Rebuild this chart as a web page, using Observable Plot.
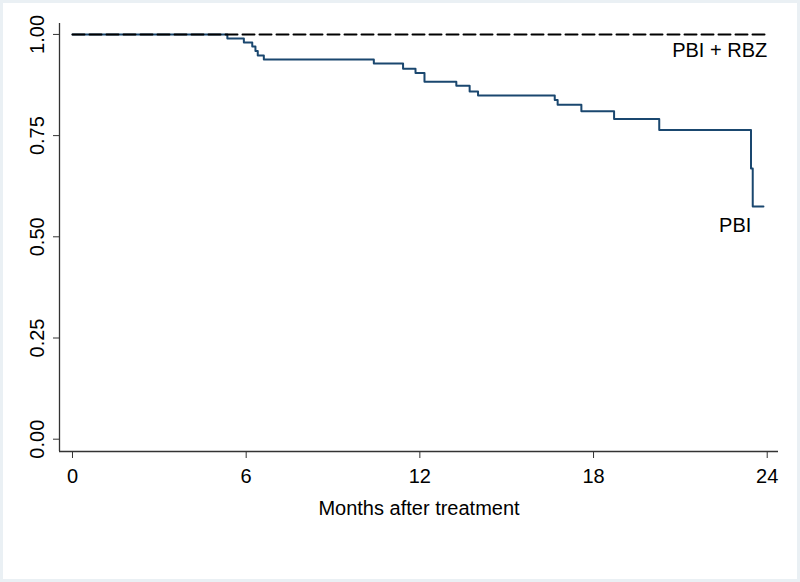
<!DOCTYPE html>
<html>
<head>
<meta charset="utf-8">
<script src="https://cdn.jsdelivr.net/npm/d3@7"></script>
<script src="https://cdn.jsdelivr.net/npm/@observablehq/plot@0.6"></script>
<style>
  html, body { margin: 0; padding: 0; background: #ffffff; }
  #chart { width: 800px; height: 582px; position: relative; overflow: hidden; }
  #chart svg { display: block; }
  #border { position: absolute; left: 0; top: 0; width: 800px; height: 582px; box-sizing: border-box; border: 3px solid #eaf0f4; pointer-events: none; }
</style>
</head>
<body>
<div id="chart"><div id="border"></div></div>
<script>
// Kaplan-Meier style step data
const pbiMonths = [0, 5.35, 5.92, 6.21, 6.32, 6.40, 6.61, 10.41, 11.42, 11.85, 12.16, 13.26, 13.72, 14.01, 16.66, 16.76, 17.58, 18.71, 20.27, 23.44, 23.50, 23.87];
const pbiSurv   = [1.000, 0.990, 0.980, 0.970, 0.959, 0.948, 0.938, 0.928, 0.915, 0.905, 0.883, 0.873, 0.859, 0.849, 0.838, 0.826, 0.810, 0.791, 0.764, 0.669, 0.575, 0.575];
const rbzMonths = [0, 24];
const rbzSurv   = [1.0, 1.0];
const xTicks = [0, 6, 12, 18, 24];
const yTicks = [0, 0.25, 0.5, 0.75, 1.0];
const yTickLabels = ["0.00", "0.25", "0.50", "0.75", "1.00"];
const seriesLabels = [
  {name: "PBI + RBZ", month: 24.0, value: 0.945},
  {name: "PBI", month: 23.45, value: 0.513}
];
const xTitle = "Months after treatment";

const pbi = pbiMonths.map((m, i) => ({month: m, value: pbiSurv[i]}));
const rbz = rbzMonths.map((m, i) => ({month: m, value: rbzSurv[i]}));
const yLab = yTicks.map((v, i) => ({value: v, label: yTickLabels[i]}));

const xDomain = [-0.449, 24.39];
const yDomain = [-0.0304, 1.027];
const axisColor = "#333333";
const font = "'Liberation Sans', Arial, Helvetica, sans-serif";

const chart = Plot.plot({
  width: 800,
  height: 582,
  marginLeft: 59,
  marginRight: 22,
  marginTop: 23,
  marginBottom: 131,
  style: {fontFamily: font, fontSize: "20px", color: "#000", background: "transparent"},
  x: {domain: xDomain, ticks: xTicks},
  y: {domain: yDomain, ticks: yTicks},
  marks: [
    Plot.axisX({ticks: xTicks, tickSize: 7, tickPadding: 10, label: null, stroke: axisColor, fill: "#000", fontSize: 20, strokeWidth: 1}),
    Plot.axisY({ticks: yTicks, tickSize: 6, tickFormat: () => "", label: null, stroke: axisColor, strokeWidth: 1}),
    Plot.ruleX([xDomain[0]], {stroke: axisColor, strokeWidth: 1.3}),
    Plot.ruleY([yDomain[0]], {stroke: axisColor, strokeWidth: 1.3}),
    Plot.text(yLab, {y: "value", text: "label", frameAnchor: "left", dx: -16, rotate: -90, textAnchor: "middle", lineAnchor: "bottom", fontSize: 20, fill: "#000"}),
    Plot.text([xTitle], {frameAnchor: "bottom", dy: 63, lineAnchor: "bottom", textAnchor: "middle", fontSize: 20, fill: "#000"}),
    Plot.line(pbi, {x: "month", y: "value", curve: "step-after", stroke: "#1a476f", strokeWidth: 2}),
    Plot.line(rbz, {x: "month", y: "value", stroke: "#000000", strokeWidth: 2, strokeDasharray: "12,5"}),
    Plot.text(seriesLabels, {x: "month", y: "value", text: "name", textAnchor: "end", lineAnchor: "bottom", fontSize: 20, fill: "#000"})
  ]
});
document.getElementById("chart").prepend(chart);
</script>
</body>
</html>
